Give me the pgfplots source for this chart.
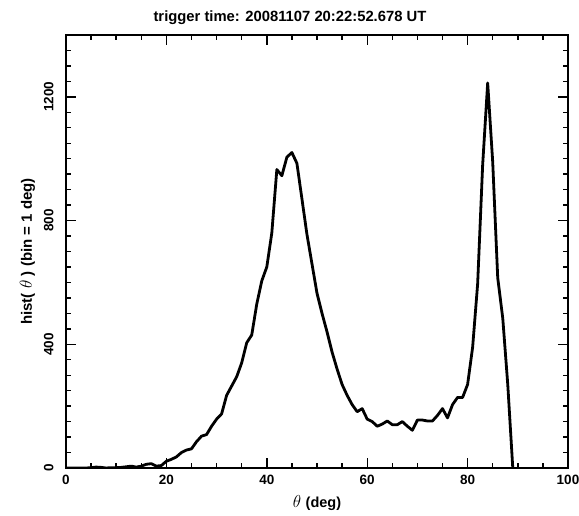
\documentclass[border=0pt]{standalone}
\usepackage{fontspec}
\setmainfont{Liberation Sans}
\usepackage{pgfplots}
\pgfplotsset{compat=1.18}
\pgfplotstableread{
t v
0 0
1 0
2 0
3 0
4 0
5 1
6 3
7 2
8 0
9 1
10 1
11 2
12 4
13 6
14 3
15 6
16 12
17 14
18 6
19 8
20 22
21 28
22 36
23 50
24 58
25 62
26 85
27 103
28 108
29 135
30 158
31 175
32 235
33 265
34 295
35 340
36 405
37 430
38 530
39 605
40 650
41 760
42 965
43 945
44 1005
45 1020
46 985
47 870
48 755
49 660
50 565
51 500
52 440
53 375
54 320
55 270
56 235
57 205
58 182
59 192
60 158
61 150
62 135
63 142
64 152
65 140
66 140
67 150
68 135
69 122
70 155
71 155
72 152
73 152
74 170
75 192
76 162
77 205
78 228
79 228
80 270
81 390
82 595
83 980
84 1245
85 990
86 615
87 485
88 270
89 0
}\hist
\begin{document}
\begin{tikzpicture}
\begin{axis}[
  scale only axis, width=502pt, height=433pt,
  xmin=0, xmax=100, ymin=0, ymax=1400,
  xtick={0,20,40,60,80,100}, ytick={0,400,800,1200},
  minor xtick={5,10,15,25,30,35,45,50,55,65,70,75,85,90,95},
  minor ytick={50,100,...,350,450,500,...,750,850,900,...,1150,1250,1300,1350},
  xtick pos=both, ytick pos=both,
  tick align=inside,
  tickwidth=10pt, subtickwidth=5pt,
  axis line style={line width=1.6pt},
  every tick/.append style={line width=1.4pt, draw=black},
  /pgf/number format/assume math mode=true,
  /pgf/number format/1000 sep={},
  scaled ticks=false,
  ticklabel style={font=\bfseries\fontsize{13.5}{15}\selectfont},
  xticklabel style={yshift=-4pt},
  yticklabel style={rotate=90, anchor=south, yshift=9pt},
  title={\bfseries\fontsize{14.8}{17}\selectfont trigger time: 20081107 20:22:52.678 UT},
  title style={yshift=1pt, xshift=-27pt},
  xlabel={\fontsize{16}{18}\selectfont$\theta$ \bfseries\fontsize{14.5}{17}\selectfont(deg)},
  ylabel={\bfseries\fontsize{15}{17}\selectfont hist(\ \mdseries\fontsize{16}{18}\selectfont$\theta$\ \bfseries\fontsize{15}{17}\selectfont) (bin = 1 deg)},
  xlabel style={yshift=-4pt},
  ylabel style={yshift=2pt},
]
\addplot[black, line width=2.8pt, line join=round] table[x=t, y=v] {\hist};
\end{axis}
\pgfresetboundingbox
\path[use as bounding box] ([xshift=-66pt,yshift=-48pt]current axis.south west) rectangle ([xshift=11pt,yshift=35pt]current axis.north east);
\end{tikzpicture}
\end{document}
